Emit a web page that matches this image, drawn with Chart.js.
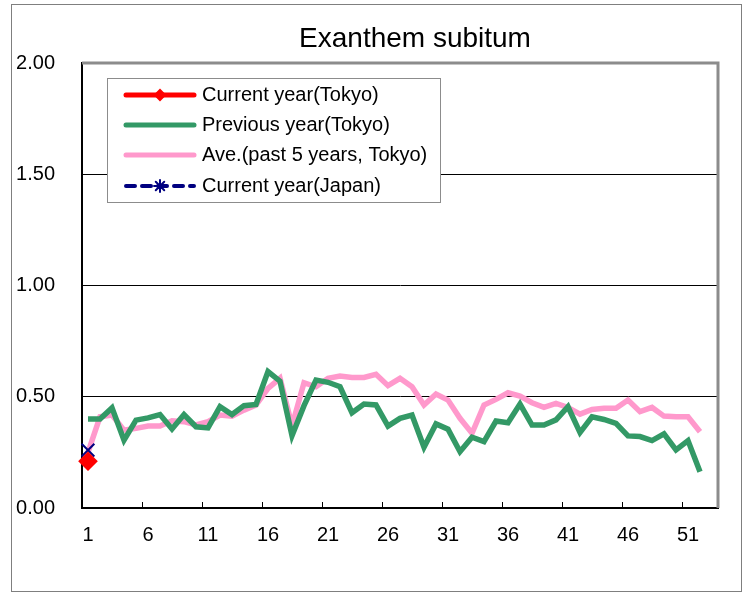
<!DOCTYPE html>
<html>
<head>
<meta charset="utf-8">
<script src="https://cdn.jsdelivr.net/npm/chart.js@4/dist/chart.umd.min.js"></script>
<style>
  html, body { margin: 0; padding: 0; background: #fff; }
  #wrap { width: 752px; height: 593px; }
</style>
</head>
<body>
<div id="wrap"><canvas id="chart" width="752" height="593"></canvas></div>
<script>
// week numbers (53 slots, last one empty like the original sheet)
const weeks = [1, 2, 3, 4, 5, 6, 7, 8, 9, 10, 11, 12, 13, 14, 15, 16, 17, 18, 19, 20,
    21, 22, 23, 24, 25, 26, 27, 28, 29, 30, 31, 32, 33, 34, 35, 36, 37, 38, 39, 40,
    41, 42, 43, 44, 45, 46, 47, 48, 49, 50, 51, 52, 53];
const shownWeeks = [1, 6, 11, 16, 21, 26, 31, 36, 41, 46, 51];
const yTicks = [0, 0.5, 1.0, 1.5, 2.0];

const currentTokyo = [0.21];
const previousTokyo = [0.40, 0.40, 0.45, 0.305, 0.395, 0.405, 0.42, 0.355, 0.42, 0.365,
    0.36, 0.455, 0.42, 0.46, 0.465, 0.613, 0.57, 0.325, 0.46, 0.575,
    0.565, 0.545, 0.428, 0.467, 0.463, 0.368, 0.403, 0.418, 0.273, 0.378,
    0.354, 0.253, 0.318, 0.298, 0.391, 0.383, 0.467, 0.373, 0.373, 0.396,
    0.455, 0.339, 0.41, 0.398, 0.38, 0.324, 0.321, 0.303, 0.333, 0.261,
    0.303, 0.163];
const avgTokyo = [0.25, 0.41, 0.418, 0.35, 0.358, 0.368, 0.368, 0.392, 0.388, 0.373,
    0.388, 0.418, 0.413, 0.44, 0.463, 0.538, 0.583, 0.37, 0.563, 0.545,
    0.583, 0.593, 0.587, 0.587, 0.601, 0.55, 0.583, 0.545, 0.463, 0.512,
    0.485, 0.403, 0.336, 0.463, 0.488, 0.518, 0.503, 0.473, 0.452, 0.47,
    0.452, 0.422, 0.443, 0.448, 0.448, 0.485, 0.433, 0.452, 0.413, 0.41,
    0.41, 0.343];
const currentJapan = [0.26];

const FONT = '"Liberation Sans", Arial, sans-serif';

// title, frame, inner tick marks and the boxed legend are drawn by hand
const decorPlugin = {
    id: 'decor',
    afterDraw(chart) {
        const ctx = chart.ctx;
        const area = chart.chartArea;
        ctx.save();

        // outer frame
        ctx.strokeStyle = '#7f7f7f';
        ctx.lineWidth = 1;
        ctx.strokeRect(11.5, 4.5, 730, 587);

        // title
        ctx.fillStyle = '#000';
        ctx.font = '28px ' + FONT;
        ctx.textAlign = 'center';
        ctx.textBaseline = 'middle';
        ctx.fillText('Exanthem subitum', 415, 39);

        // grey top and right edges of the plot area
        ctx.strokeStyle = '#8c8c8c';
        ctx.lineWidth = 3;
        ctx.beginPath();
        ctx.moveTo(area.left, area.top);
        ctx.lineTo(area.right, area.top);
        ctx.lineTo(area.right, area.bottom);
        ctx.stroke();

        // inside tick marks between categories
        const x = chart.scales.x;
        ctx.strokeStyle = '#000';
        ctx.lineWidth = 1;
        shownWeeks.forEach(w => {
            const i = weeks.indexOf(w);
            if (i < 1) return;
            const px = Math.round((x.getPixelForValue(i - 1) + x.getPixelForValue(i)) / 2) + 0.5;
            ctx.beginPath();
            ctx.moveTo(px, area.bottom);
            ctx.lineTo(px, area.bottom - 6);
            ctx.stroke();
        });

        // legend box
        const box = { left: 107, top: 78, right: 440, bottom: 202 };
        ctx.fillStyle = '#fff';
        ctx.fillRect(box.left, box.top, box.right - box.left, box.bottom - box.top);
        ctx.strokeStyle = '#8c8c8c';
        ctx.lineWidth = 1;
        ctx.strokeRect(box.left + 0.5, box.top + 0.5, box.right - box.left, box.bottom - box.top);

        const rowY = [95, 125, 155, 186];
        chart.data.datasets.forEach((ds, i) => {
            const y = rowY[i];
            ctx.save();
            ctx.strokeStyle = ds.borderColor;
            ctx.lineWidth = ds.legendWidth;
            ctx.lineCap = 'round';
            ctx.setLineDash(ds.legendDash || []);
            ctx.beginPath();
            ctx.moveTo(126, y);
            ctx.lineTo(194, y);
            ctx.stroke();
            ctx.setLineDash([]);
            if (ds.pointRadius > 0) {
                ctx.fillStyle = ds.pointBackgroundColor;
                ctx.strokeStyle = ds.pointBorderColor;
                ctx.lineWidth = 2;
                Chart.helpers.drawPoint(ctx, {
                    pointStyle: ds.legendStyle || ds.pointStyle, radius: ds.legendRadius,
                    borderWidth: 2, rotation: 0
                }, 160, y);
            }
            ctx.restore();
            ctx.fillStyle = '#000';
            ctx.font = '20px ' + FONT;
            ctx.textAlign = 'left';
            ctx.textBaseline = 'middle';
            ctx.fillText(ds.label, 202, y);
        });

        ctx.restore();
    }
};

new Chart(document.getElementById('chart'), {
    type: 'line',
    data: {
        labels: weeks,
        datasets: [{
            label: 'Current year(Tokyo)',
            data: currentTokyo,
            order: -2,
            clip: false,
            borderColor: '#ff0000',
            borderWidth: 4,
            legendWidth: 5,
            pointStyle: 'rectRot',
            pointRadius: 7,
            legendRadius: 5,
            pointBackgroundColor: '#ff0000',
            pointBorderColor: '#ff0000'
        }, {
            label: 'Previous year(Tokyo)',
            data: previousTokyo,
            borderColor: '#339966',
            borderWidth: 5.5,
            legendWidth: 5,
            pointRadius: 0
        }, {
            label: 'Ave.(past 5 years, Tokyo)',
            data: avgTokyo,
            borderColor: '#ff99cc',
            borderWidth: 5.5,
            legendWidth: 5,
            pointRadius: 0
        }, {
            label: 'Current year(Japan)',
            data: currentJapan,
            order: -1,
            clip: false,
            borderColor: '#000080',
            borderWidth: 3,
            borderDash: [8, 4],
            legendWidth: 4,
            legendDash: [9, 7],
            pointStyle: 'crossRot',
            legendStyle: 'star',
            pointRadius: 9,
            legendRadius: 6,
            pointBackgroundColor: '#000080',
            pointBorderColor: '#000080',
            pointBorderWidth: 2
        }]
    },
    options: {
        responsive: false,
        animation: false,
        devicePixelRatio: 1,
        layout: { padding: { top: 63, left: 0, right: 34, bottom: 0 } },
        plugins: {
            legend: { display: false },
            title: { display: false },
            tooltip: { enabled: false }
        },
        elements: { line: { tension: 0 } },
        scales: {
            x: {
                type: 'category',
                offset: true,
                afterFit: s => { s.height = 85; },
                grid: { display: true, drawOnChartArea: false, drawTicks: false },
                border: { display: true, color: '#000', width: 2 },
                ticks: {
                    autoSkip: false,
                    maxRotation: 0,
                    padding: 15,
                    color: '#000',
                    font: { family: FONT, size: 20 },
                    callback: function (v, i) {
                        const w = weeks[i];
                        return shownWeeks.includes(w) ? String(w) : '';
                    }
                }
            },
            y: {
                min: yTicks[0],
                max: yTicks[yTicks.length - 1],
                afterFit: s => { s.width = 82; },
                afterBuildTicks: s => { s.ticks = yTicks.map(v => ({ value: v })); },
                grid: {
                    drawTicks: false,
                    lineWidth: 1,
                    color: c => (c.tick && (c.tick.value === 0 || c.tick.value === 2)) ? 'rgba(0,0,0,0)' : '#000'
                },
                border: { display: true, color: '#000', width: 2 },
                ticks: {
                    padding: 27,
                    color: '#000',
                    font: { family: FONT, size: 20 },
                    callback: v => Number(v).toFixed(2)
                }
            }
        }
    },
    plugins: [decorPlugin]
});
</script>
</body>
</html>
